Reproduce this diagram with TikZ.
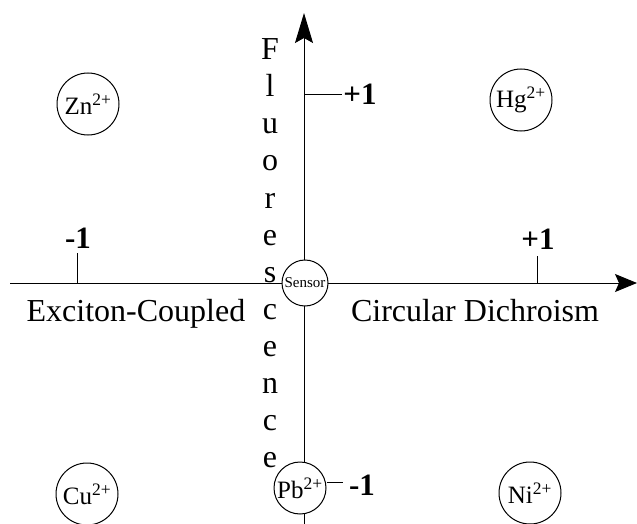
\documentclass[tikz,border=0pt]{standalone}
\usepackage{fontspec}
\setmainfont{Liberation Serif}
\usetikzlibrary{arrows.meta}
\begin{document}
\begin{tikzpicture}[x=1pt,y=-1pt,
  axisline/.style={line width=1pt,black},
  tickline/.style={line width=1pt,black},
  ion/.style={circle,draw,line width=1pt,fill=white,minimum size=62pt,inner sep=0pt,font=\fontsize{25}{28}\selectfont},
  sensorbox/.style={circle,draw,line width=1pt,fill=white,minimum size=46pt,inner sep=0pt,font=\fontsize{15}{17}\selectfont},
  bignum/.style={font=\fontsize{31}{34}\selectfont\bfseries,inner sep=0pt},
  axislabel/.style={font=\fontsize{32}{36}\selectfont,inner sep=0pt,anchor=base},
  letterbox/.style={font=\fontsize{32}{36}\selectfont,inner sep=0pt,anchor=base}
]
\useasboundingbox (0,0) rectangle (637,524);
% axes
\coordinate (hstart) at (10,283);
\coordinate (hend) at (637,283);
\coordinate (vstart) at (304,524);
\coordinate (vend) at (304,13);
\draw[axisline,-{Stealth[length=22pt,width=18pt,inset=4pt]}] (hstart) -- (hend);
\draw[axisline,-{Stealth[length=30pt,width=18pt,inset=5pt]}] (vstart) -- (vend);
% fluorescence letters
\foreach \ch [count=\i from 0] in {F,l,u,o,r,e,s,c,e,n,c,e}{
  \node[letterbox] (fl\i) at (270,{60+37*\i}) {\ch};
}
% ticks
\coordinate (tvA) at (304,95);
\coordinate (tvB) at (342,95);
\draw[tickline] (tvA) -- (tvB);
\node[bignum] (ptop) at (360,94) {+1};
\coordinate (tlA) at (77,253);
\coordinate (tlB) at (77,283);
\draw[tickline] (tlA) -- (tlB);
\node[bignum] (mleft) at (78,238) {-1};
\coordinate (trA) at (537,256);
\coordinate (trB) at (537,283);
\draw[tickline] (trA) -- (trB);
\node[bignum] (pright) at (538,239) {+1};
% circles
\node[sensorbox] (sensor) at (305,283) {Sensor};
\node[ion] (zn) at (88,104) {Zn\textsuperscript{2+}};
\node[ion] (hg) at (521,100) {Hg\textsuperscript{2+}};
\node[ion] (cu) at (87,494) {Cu\textsuperscript{2+}};
\node[ion] (ni) at (530,493) {Ni\textsuperscript{2+}};
\node[ion,minimum size=52pt] (pb) at (300,488) {Pb\textsuperscript{2+}};
\coordinate (tpB) at (343,482);
\draw[tickline] (pb.east |- tpB) -- (tpB);
\node[bignum] (mbottom) at (362,485) {-1};
% axis labels
\node[axislabel] (exc) at (136,321) {Exciton-Coupled};
\node[axislabel] (cd) at (475,321) {Circular Dichroism};
\end{tikzpicture}
\end{document}
